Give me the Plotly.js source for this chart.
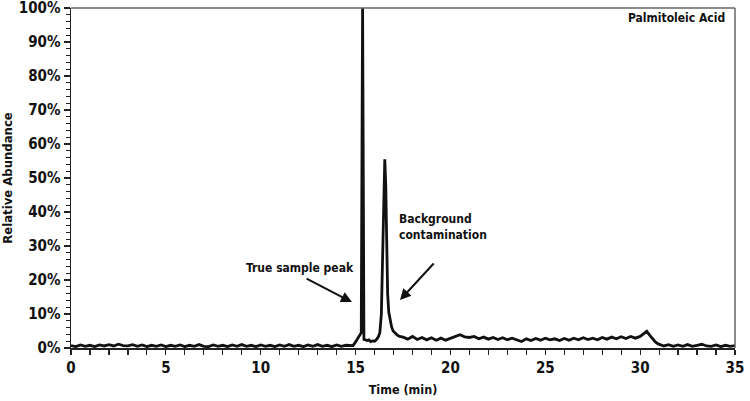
<!DOCTYPE html>
<html>
<head>
<meta charset="utf-8">
<script src="https://cdn.plot.ly/plotly-3.0.1.min.js"></script>
<style>html,body{margin:0;padding:0;background:#fff;}#chart{width:750px;height:401px;}</style>
</head>
<body>
<div id="chart"></div>
<script>
// Retention time (min)
const timeMin = [
  0,0.25,0.5,0.75,1,1.25,1.5,1.75,2,2.25,2.5,2.75,3,3.25,3.5,3.75,4,4.25,4.5,4.75,
  5,5.25,5.5,5.75,6,6.25,6.5,6.75,7,7.25,7.5,7.75,8,8.25,8.5,8.75,9,9.25,9.5,9.75,
  10,10.25,10.5,10.75,11,11.25,11.5,11.75,12,12.25,12.5,12.75,13,13.25,13.5,13.75,14,14.25,14.5,14.75,
  14.87,15.0,15.1,15.2,15.3,15.34,15.37,15.4,15.44,15.52,15.6,15.7,15.8,15.9,16.0,16.1,16.2,
  16.28,16.36,16.43,16.49,16.54,16.59,16.64,16.69,16.75,16.82,16.9,16.98,17.08,17.2,17.32,
  17.5,17.75,18,18.25,18.5,18.75,19,19.25,19.5,19.75,20,20.25,20.5,20.75,21,21.25,21.5,21.75,
  22,22.25,22.5,22.75,23,23.25,23.5,23.75,24,24.25,24.5,24.75,25,25.25,25.5,25.75,26,26.25,26.5,26.75,
  27,27.25,27.5,27.75,28,28.25,28.5,28.75,29,29.25,29.5,29.75,30,30.2,30.35,30.5,30.65,30.8,30.95,31.1,
  31.25,31.5,31.75,32,32.25,32.5,32.75,33,33.25,33.5,33.75,34,34.25,34.5,34.75,35
];
// Relative abundance (%)
const abundance = [
  0.7,0.4,0.9,0.5,0.8,0.4,0.9,0.6,1.0,0.6,1.1,0.7,0.6,1.0,0.5,0.9,0.4,0.8,0.5,0.9,
  0.4,0.8,0.5,0.9,0.4,0.8,0.5,1.0,0.5,0.4,0.9,0.5,0.8,0.4,0.9,0.5,1.0,0.5,0.8,0.4,
  0.9,0.5,0.8,0.4,0.9,0.5,1.0,0.5,0.8,0.4,0.9,0.5,1.0,0.5,0.8,0.4,0.9,0.5,0.8,0.6,
  0.7,1.8,2.8,3.5,4.5,60,100,60,2.5,2.4,2.2,2.4,1.9,2.1,2.0,2.5,3.3,
  4.5,10,28,47,55.5,48,30,16,10.5,8,6.2,5.0,4.3,3.8,3.4,
  3.2,2.6,3.4,2.5,3.1,2.4,3.0,2.3,2.9,2.3,2.8,3.3,3.9,3.3,3.1,3.4,2.7,3.2,
  2.6,3.1,2.5,3.0,2.4,2.9,2.3,1.9,2.7,2.2,2.8,2.3,2.9,2.4,2.7,2.2,2.8,2.3,2.9,2.4,
  3.0,2.5,2.9,2.4,3.1,2.6,3.2,2.7,3.3,2.8,3.4,2.9,3.4,4.2,4.9,3.8,2.8,1.8,1.2,0.9,
  0.6,1.0,0.5,0.9,0.5,1.0,0.5,0.8,1.1,0.6,0.5,0.9,0.4,0.8,0.5,0.7
];
const chartTitle = 'Palmitoleic Acid';
const labelTrue = 'True sample peak';
const labelBackground = 'Background<br>contamination';

const FONT = "'DejaVu Sans Condensed', 'Liberation Sans Narrow', 'Liberation Sans', Arial, sans-serif";

const trace = {
  x: timeMin, y: abundance, type: 'scatter', mode: 'lines',
  line: {color: '#111', width: 2.8}, hoverinfo: 'skip'
};

const layout = {
  width: 750, height: 401,
  margin: {l: 71, r: 15, t: 8, b: 53},
  paper_bgcolor: '#fff', plot_bgcolor: '#fff',
  showlegend: false,
  font: {family: FONT, color: '#111', size: 14},
  xaxis: {
    range: [0, 35], dtick: 5, tick0: 0,
    showgrid: false, zeroline: false,
    showline: true, linecolor: '#222', linewidth: 1.5,
    ticks: 'outside', ticklen: 5, tickwidth: 1.2, tickcolor: '#222',
    minor: {dtick: 1, ticks: 'outside', ticklen: 5, tickwidth: 1.2, tickcolor: '#222'},
    tickfont: {family: FONT, size: 15, weight: 'bold', color: '#111'},
    ticklabeloverflow: 'allow',
    title: {text: 'Time (min)', font: {family: FONT, size: 12.5, weight: 'bold', color: '#111'}, standoff: 9}
  },
  yaxis: {
    range: [0, 100.001], dtick: 10, tick0: 0,
    ticksuffix: '%',
    showgrid: false, zeroline: false,
    showline: true, linecolor: '#222', linewidth: 1.5,
    ticks: 'outside', ticklen: 6, tickwidth: 1.2, tickcolor: '#222',
    minor: {dtick: 2, ticks: 'outside', ticklen: 4, tickwidth: 1, tickcolor: '#222'},
    tickfont: {family: FONT, size: 15, weight: 'bold', color: '#111'},
    ticklabeloverflow: 'allow',
    title: {text: 'Relative Abundance', font: {family: FONT, size: 13, weight: 'bold', color: '#111'}, standoff: 7}
  },
  shapes: [
    {type: 'line', xref: 'paper', yref: 'paper', x0: 0, x1: 1, y0: 1, y1: 1, line: {color: '#666', width: 1.5}},
    {type: 'line', xref: 'paper', yref: 'paper', x0: 1, x1: 1, y0: 0, y1: 1, line: {color: '#666', width: 1.5}}
  ],
  annotations: [
    {xref: 'paper', yref: 'paper', x: 0.988, y: 0.997, xanchor: 'right', yanchor: 'top',
     text: chartTitle, showarrow: false,
     font: {family: FONT, size: 12, weight: 'bold', color: '#111'}},
    {xref: 'x', yref: 'y', x: 12.05, y: 23.6, xanchor: 'center', yanchor: 'middle',
     text: labelTrue, showarrow: false,
     font: {family: FONT, size: 12, weight: 'bold', color: '#111'}},
    {xref: 'x', yref: 'y', x: 17.2, y: 35.5, xanchor: 'left', yanchor: 'middle', align: 'left',
     text: labelBackground, showarrow: false,
     font: {family: FONT, size: 12, weight: 'bold', color: '#111'}},
    {xref: 'x', yref: 'y', axref: 'x', ayref: 'y', x: 14.81, y: 13.5, ax: 12.34, ay: 20.6,
     text: '', showarrow: true, arrowhead: 2, arrowsize: 1.1, arrowwidth: 2, arrowcolor: '#111', standoff: 0},
    {xref: 'x', yref: 'y', axref: 'x', ayref: 'y', x: 17.34, y: 14.1, ax: 19.19, ay: 25.3,
     text: '', showarrow: true, arrowhead: 2, arrowsize: 1.1, arrowwidth: 2, arrowcolor: '#111', standoff: 0}
  ]
};

Plotly.newPlot('chart', [trace], layout, {displayModeBar: false, staticPlot: true});
</script>
</body>
</html>
